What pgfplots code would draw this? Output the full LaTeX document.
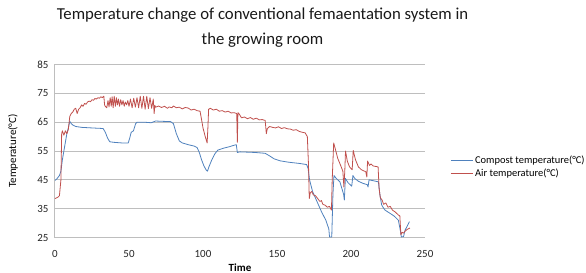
\documentclass[border=0pt]{standalone}
\usepackage{pgfplots}
\pgfplotsset{compat=1.18}
\usepackage{fontspec}
\setmainfont{Carlito}
\definecolor{exblue}{RGB}{79,129,189}
\definecolor{exred}{RGB}{192,80,77}
\definecolor{gridgray}{RGB}{190,190,190}
\begin{document}
\begin{tikzpicture}
\path[use as bounding box] (-55bp,-35.5bp) rectangle (531bp,237.5bp);
\begin{axis}[
  at={(0,0)}, anchor=south west,
  scale only axis, width=370bp, height=173bp,
  xmin=0, xmax=250, ymin=25, ymax=85,
  xtick={0,50,100,150,200,250},
  ytick={25,35,45,55,65,75,85},
  axis x line*=bottom, axis y line*=left,
  axis line style={draw=gridgray, line width=1bp},
  x axis line style={-}, y axis line style={-},
  major tick length=0pt,
  ymajorgrids, grid style={gridgray, line width=1bp},
  /pgf/number format/assume math mode=true,
  tick label style={font=\fontsize{11}{13}\selectfont, text=black!85},
  yticklabel style={xshift=-3bp},
  xticklabel style={yshift=-9bp},
  xlabel={\textbf{Time}}, ylabel={Temperature(°C)},
  xlabel style={at={(axis description cs:0.5,0)}, anchor=center, yshift=-30.5bp, font=\fontsize{11}{12}\selectfont},
  ylabel style={at={(axis description cs:-0.1135,0.5)}, anchor=center, font=\fontsize{11}{12}\selectfont},
  legend style={draw=none, fill=none, at={(axis description cs:1.068,0.409)}, anchor=west,
    font=\fontsize{10.5}{11}\selectfont, row sep=0pt, inner sep=0pt, cells={anchor=west, inner sep=1.5pt}},
  legend image code/.code={\draw (0bp,0bp) -- (22bp,0bp);},
  every axis plot/.append style={line width=0.8bp, line join=round},
  clip=false
]
\addplot[exblue] coordinates {
(0,44.8) (1,45.2) (3,46.5) (4,48) (5,52) (6,55) (7,58) (8,61) (9,63) (10,65.3) (11,64.5) (12,64) (14,63.5) (18,63.2) (25,63) (32.5,62.8) (34,61.5) (35.5,59.5) (37,58.2) (40,58) (45,57.8) (49.5,57.8) (50.5,59.5) (51.5,61.5) (53,62) (54.5,64.5) (55.5,65) (60,65) (65,64.8) (68,65.4) (72,65.3) (78,65.2) (80,64.5) (82,61) (84,58.5) (86,57.8) (90,57.2) (94,56.7) (96,56.2) (97.5,54.5) (99,52) (100.5,50) (102,48.5) (103,48) (104,49.5) (106,52) (108,54) (110,55.3) (114,56) (118,56.5) (121,57) (122.5,57.2) (123.2,54.5) (125,54.7) (135,54.5) (142,54.2) (145,53.3) (148,52.3) (152,51.6) (158,51.1) (165,50.7) (170,50.3) (171,49) (172,45) (174,41) (177,37.5) (180,34) (183,31) (185,28) (185.5,25.2) (187,25.2) (187.8,40) (188.5,46.5) (190,45.5) (192.5,44.3) (195,40) (195.5,38) (196.2,45.5) (198,44) (200.5,42.8) (201.3,46.5) (202.5,45.5) (205,44.5) (208,43.8) (211,43.3) (211.5,42.5) (212.2,45) (215,44.7) (218.5,44.3) (219.5,40) (220.7,36.3) (222,35.2) (223,34.5) (226,33.5) (229,32.5) (232,31) (233.5,27) (234,25.2) (235.5,25.3) (236.5,27.5) (238,29) (239.5,30.5)
};
\addlegendentry{Compost temperature(°C)}
\addplot[exred] coordinates {
(0,38.5) (2,39) (3,39.5) (4,45) (4.5,61) (5,62) (6,60.5) (7,62) (8,61) (9,62.5) (10,67) (11,68) (12,68.5) (13,69.5) (14,69.8) (15,68) (16,69.5) (17,70) (18,71) (19,70.5) (20,71.5) (21,71.2) (22,72) (23,72.3) (24,72.1) (25,72.8) (26,72.6) (27,73.2) (28,73) (29,73.5) (30,73.3) (31,73.8) (32,73.5) (33,74) (33.5,71) (34,70.5) (35,70) (35.8,72.5) (36.5,70.3) (37.3,73.5) (38,70.5) (38.6,73.8) (39.3,70) (40,74) (40.8,70.5) (41.5,73.5) (42.2,71) (42.9,73) (43.6,70.5) (44.4,72.8) (45.2,71) (46,72.5) (46.8,70.5) (47.5,72) (48.4,71) (49.2,72.5) (50,70.5) (51,73) (52.1,70) (53.2,73.3) (54.3,70.2) (55.4,73.5) (56.5,70) (57.6,74) (58.7,69.8) (59.8,74) (60.9,69.5) (62,74) (63.1,69.7) (64.2,73.5) (65.3,69.8) (66.4,73) (67,68) (67.5,70.8) (68,70.2) (70,70.6) (72,70.1) (74,70.5) (76,69.8) (77,70.3) (79,70) (80,70.6) (82,70) (84,70.2) (86,69.6) (88,70.1) (90,69.9) (92,69.2) (94,69.5) (96,69) (98,68.8) (99,66) (100,63) (101.5,60) (102.8,57.8) (103.3,63) (103.8,69.5) (105,69.8) (107,69.2) (109,69.5) (111,68.8) (113,69) (115,68.5) (117,68.8) (119,68.2) (121,68.3) (122.8,68) (123.2,58) (123.6,68.3) (124.5,67.8) (126,66.5) (128,66.8) (130,66.2) (132,66.6) (134,66) (136,66.4) (138,65.8) (140,65.9) (142,65.6) (142.8,61) (143.5,62.8) (145,63.5) (147,63.2) (149,63) (151,63.4) (153,62.8) (155,63.1) (157,62.7) (159,62.6) (161,62.2) (163,62.4) (165,61.8) (167,61.5) (169,61.3) (170.5,60) (171.3,50) (171.8,38.5) (172.5,40.5) (173.5,41) (174.5,39.8) (176,39.5) (177.5,38.5) (179,37.5) (180,37.8) (181,36.5) (182.5,36.2) (184,35.5) (185.5,35.8) (186.8,34.5) (187.3,45) (188.3,57.8) (189.5,55.5) (191,52.5) (193,50) (194.5,48) (195.2,42.5) (195.8,48) (196.3,55) (197.5,51.5) (199,49.5) (200.8,48.5) (201.5,55.2) (203,52) (205,49.5) (207,48.5) (210,47.8) (210.7,46) (211.2,51.5) (212.5,50) (213.5,50.5) (215,49.8) (218.3,49.5) (219,42) (219.8,38.8) (221,38) (222,36.5) (223.5,37) (225,35.5) (226.5,35.8) (228,34.5) (230,33.8) (232,32.8) (233,32.5) (233.7,26) (234.5,26.8) (235.5,26.5) (236.5,27.2) (238,27.8) (239.8,28.3)
};
\addlegendentry{Air temperature(°C)}
\end{axis}
\node[align=center, font=\fontsize{16.8}{25}\selectfont, text=black!90] at (207.5bp,210bp) {Temperature change of conventional femaentation system in\\the growing room};
\end{tikzpicture}
\end{document}
